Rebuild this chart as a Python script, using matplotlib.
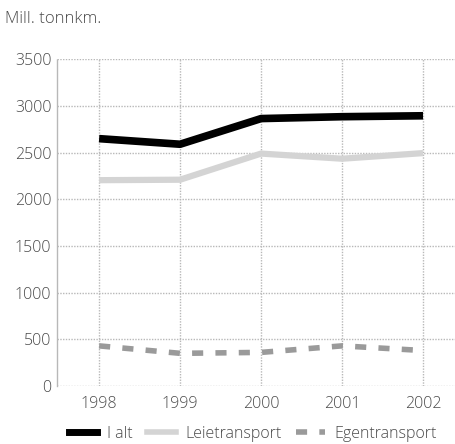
import matplotlib
matplotlib.use("Agg")
import matplotlib.pyplot as plt
from matplotlib.lines import Line2D

years = ["1998", "1999", "2000", "2001", "2002"]
i_alt = [2650, 2590, 2865, 2885, 2895]
leietransport = [2205, 2210, 2490, 2435, 2495]
egentransport = [430, 350, 360, 430, 380]
series_names = ["I alt", "Leietransport", "Egentransport"]
y_ticks = [0, 500, 1000, 1500, 2000, 2500, 3000, 3500]

plt.rcParams['font.family'] = ['Open Sans', 'DejaVu Sans']
plt.rcParams['font.weight'] = 'light'
txt = '#4a4a4a'
gridc = '#b8b8b8'

fig = plt.figure(figsize=(4.55, 4.44), dpi=100)
ax = fig.add_axes([57/455, 1-386/444, 1-57/455, (386-59.3)/444])

x = list(range(len(years)))
ax.plot(x, i_alt, color='black', lw=5.5, solid_capstyle='butt', zorder=5)
ax.plot(x, leietransport, color='#d4d4d4', lw=4.5, solid_capstyle='butt', zorder=4)
ax.plot(x, egentransport, color='#9a9a9a', lw=4, dashes=(2, 2.2), solid_capstyle='butt', zorder=4)

ax.set_xlim(-0.52, 4.395)
ax.set_ylim(0, 3500)
ax.set_yticks(y_ticks)
ax.set_xticks(x)
ax.set_xticklabels(years)
ax.grid(True, color=gridc, linestyle=(0, (1, 1)), lw=1)
ax.set_axisbelow(True)
for s in ['top', 'right', 'bottom']:
    ax.spines[s].set_visible(False)
ax.spines['left'].set_color(gridc)
ax.spines['left'].set_linestyle((0, (1, 1)))
ax.spines['left'].set_linewidth(1)
ax.tick_params(length=0, labelsize=11.5, labelcolor=txt)
ax.tick_params(axis='y', pad=4)
ax.tick_params(axis='x', pad=7)

fig.text(5/455, 1-19/444, "Mill. tonnkm.", fontsize=12, color=txt, va='center', ha='left')

handles = [
    Line2D([], [], color='black', lw=5),
    Line2D([], [], color='#d4d4d4', lw=4),
    Line2D([], [], color='#9a9a9a', lw=4, dashes=(2, 2.2)),
]
fig.legend(handles, series_names, loc='center', bbox_to_anchor=(0.555, 1-434/444),
           ncol=3, frameon=False, fontsize=11.5, handlelength=1.8, handletextpad=0.6,
           columnspacing=0.9, labelcolor=txt)

fig.savefig("out.png", dpi=100)
